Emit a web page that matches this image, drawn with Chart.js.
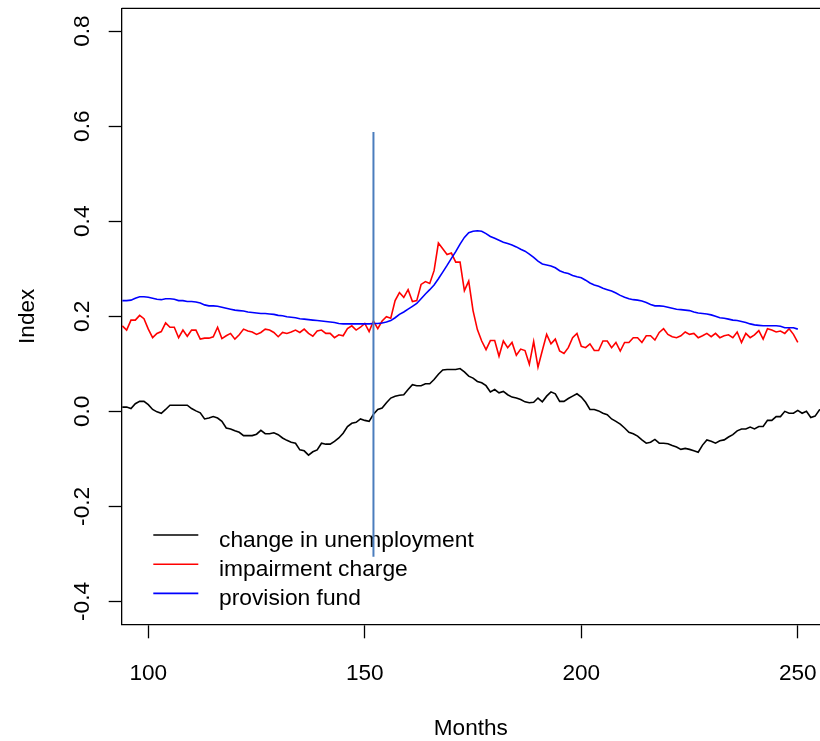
<!DOCTYPE html>
<html>
<head>
<meta charset="utf-8">
<script src="https://cdn.jsdelivr.net/npm/chart.js"></script>
<style>
  html, body { margin: 0; padding: 0; background: #fff; }
  #chart { display: block; }
</style>
</head>
<body>
<canvas id="chart" width="820" height="741"></canvas>
<script>
// months run 94, 95, ... for every series
const firstMonth = 94;
const xTicks = [100, 150, 200, 250];
const yTicks = [-0.4, -0.2, 0, 0.2, 0.4, 0.6, 0.8];

const unemployment = [
    0.009, 0.009, 0.006, 0.016, 0.021, 0.021, 0.014, 0.004, -0.001, -0.004,
    0.004, 0.013, 0.013, 0.013, 0.013, 0.013, 0.006, 0.001, -0.003, -0.016,
    -0.014, -0.011, -0.014, -0.021, -0.035, -0.037, -0.041, -0.044, -0.051, -0.051,
    -0.051, -0.048, -0.040, -0.047, -0.047, -0.045, -0.049, -0.056, -0.061, -0.065,
    -0.067, -0.081, -0.083, -0.092, -0.085, -0.081, -0.067, -0.069, -0.069, -0.063,
    -0.056, -0.046, -0.032, -0.025, -0.023, -0.016, -0.019, -0.021, -0.006,
    0.004, 0.007, 0.018, 0.028, 0.032, 0.034, 0.035, 0.046, 0.056, 0.054,
    0.054, 0.058, 0.058, 0.067, 0.078, 0.087, 0.088, 0.088, 0.088, 0.090,
    0.083, 0.074, 0.070, 0.063, 0.060, 0.054, 0.041, 0.046, 0.039, 0.042,
    0.035, 0.030, 0.028, 0.025, 0.020, 0.018, 0.019, 0.028, 0.020, 0.032,
    0.041, 0.037, 0.021, 0.021, 0.027, 0.032, 0.037, 0.030, 0.019, 0.004,
    0.004, 0.001, -0.004, -0.007,
    -0.016, -0.021, -0.027, -0.035, -0.044, -0.047, -0.052, -0.060, -0.067, -0.065,
    -0.059, -0.067, -0.067, -0.068, -0.072, -0.075, -0.080, -0.078, -0.080, -0.083,
    -0.086, -0.071, -0.060, -0.063, -0.067, -0.062, -0.060, -0.054, -0.049, -0.041,
    -0.037, -0.037, -0.033, -0.037, -0.032, -0.032, -0.019, -0.019, -0.011, -0.011,
    0.000, -0.004, -0.004, 0.002, -0.004, 0.000, -0.013, -0.010, 0.003, 0.006
];

const impairment = [
    0.180, 0.171, 0.192, 0.192, 0.202, 0.195, 0.173, 0.155, 0.164, 0.168,
    0.186, 0.177, 0.177, 0.155, 0.171, 0.158, 0.171, 0.171, 0.152, 0.154,
    0.154, 0.157, 0.177, 0.153, 0.159, 0.164, 0.152, 0.161, 0.173,
    0.169, 0.167, 0.162, 0.166, 0.173, 0.171, 0.166, 0.157, 0.166, 0.164,
    0.167, 0.171, 0.166, 0.173, 0.164, 0.158, 0.169, 0.171, 0.164, 0.164,
    0.155, 0.161, 0.159, 0.174, 0.180, 0.171, 0.177, 0.185, 0.168, 0.190,
    0.174, 0.190, 0.199, 0.196, 0.233, 0.250, 0.240, 0.256, 0.231, 0.233,
    0.267, 0.273, 0.269, 0.296, 0.354, 0.342, 0.330, 0.333, 0.314, 0.314,
    0.254, 0.274, 0.212, 0.172, 0.148, 0.130, 0.149, 0.149, 0.116,
    0.148, 0.134, 0.145, 0.118, 0.131, 0.128, 0.099, 0.147, 0.093, 0.128,
    0.162, 0.142, 0.152, 0.127, 0.122, 0.134, 0.155, 0.164,
    0.137, 0.134, 0.142, 0.128, 0.128, 0.148, 0.148, 0.134, 0.145, 0.127,
    0.145, 0.145, 0.155, 0.155, 0.145, 0.159, 0.159, 0.150, 0.166, 0.174,
    0.162, 0.157, 0.155, 0.159, 0.167, 0.162, 0.164, 0.155, 0.159, 0.164,
    0.157, 0.164, 0.155, 0.159, 0.161, 0.155, 0.167, 0.145, 0.164, 0.155,
    0.161, 0.170, 0.152, 0.174, 0.171, 0.167, 0.169, 0.164, 0.174, 0.162,
    0.145
];

const provision = [
    0.233, 0.233, 0.234, 0.238, 0.241, 0.241, 0.240, 0.238, 0.236, 0.235,
    0.237, 0.237, 0.236, 0.233, 0.233, 0.231, 0.231, 0.230, 0.228, 0.224,
    0.222, 0.222, 0.221, 0.219, 0.217, 0.215, 0.213, 0.212, 0.211, 0.209,
    0.208, 0.207, 0.206, 0.206, 0.205, 0.204, 0.202, 0.201, 0.199, 0.198,
    0.197, 0.195, 0.194, 0.193, 0.192, 0.191, 0.190, 0.189, 0.188, 0.187,
    0.185, 0.184, 0.184, 0.184, 0.184, 0.184, 0.184, 0.184, 0.185, 0.185,
    0.186, 0.188, 0.191, 0.197, 0.204, 0.209, 0.215, 0.221, 0.227, 0.237,
    0.247, 0.256, 0.266, 0.279, 0.293, 0.307, 0.322, 0.336, 0.352, 0.366,
    0.376, 0.379, 0.380, 0.379, 0.374, 0.368, 0.364, 0.360, 0.356, 0.353,
    0.350, 0.346, 0.341, 0.337, 0.331, 0.324, 0.316, 0.310, 0.308, 0.306,
    0.302, 0.296, 0.292, 0.290, 0.286, 0.283, 0.281, 0.276, 0.270, 0.266,
    0.263, 0.259, 0.256, 0.253, 0.249, 0.244, 0.240, 0.237, 0.235, 0.234,
    0.232, 0.229, 0.225, 0.222, 0.222, 0.221, 0.219, 0.217, 0.215, 0.214,
    0.213, 0.212, 0.209, 0.207, 0.206, 0.205, 0.203, 0.200, 0.197, 0.196,
    0.194, 0.192, 0.191, 0.189, 0.187, 0.184, 0.182, 0.181, 0.180, 0.180,
    0.180, 0.180, 0.179, 0.176, 0.176, 0.176, 0.173
];

// vertical marker
const markerMonth = 152;
const markerTop = 0.588;
const markerBottom = -0.306;

const fontFamily = "'Liberation Sans', Arial, Helvetica, sans-serif";
const toPoints = (values) => values.map((v, i) => ({ x: firstMonth + i, y: v }));

const legendPlugin = {
    id: 'boxlessLegend',
    beforeDatasetsDraw(chart) {
        const { ctx, chartArea } = chart;
        const rows = chart.data.datasets.filter(d => d.label);
        ctx.save();
        ctx.font = '22.8px ' + fontFamily;
        ctx.textAlign = 'left';
        ctx.textBaseline = 'alphabetic';
        rows.forEach((d, i) => {
            const y = chartArea.bottom - 89.3 + i * 29.2;
            ctx.strokeStyle = d.borderColor;
            ctx.lineWidth = d.borderWidth;
            ctx.beginPath();
            ctx.moveTo(chartArea.left + 31.6, y);
            ctx.lineTo(chartArea.left + 76.6, y);
            ctx.stroke();
            ctx.fillStyle = '#000';
            ctx.fillText(d.label, chartArea.left + 97.3, y + 11.7);
        });
        ctx.restore();
    }
};

const topFrame = {
    id: 'topFrame',
    afterDraw(chart) {
        const { ctx, chartArea } = chart;
        ctx.save();
        ctx.strokeStyle = '#000';
        ctx.lineWidth = 1.3;
        ctx.beginPath();
        ctx.moveTo(chartArea.left, chartArea.top);
        ctx.lineTo(chartArea.right, chartArea.top);
        ctx.stroke();
        ctx.restore();
    }
};

const tickFont = { family: fontFamily, size: 22.6 };
const titleFont = { family: fontFamily, size: 22.6, lineHeight: 1 };

new Chart(document.getElementById('chart'), {
    type: 'line',
    data: {
        datasets: [
            { label: 'change in unemployment', data: toPoints(unemployment), borderColor: '#000000', borderWidth: 1.6, pointRadius: 0, order: 4 },
            { label: 'impairment charge', data: toPoints(impairment), borderColor: '#ff0000', borderWidth: 1.6, pointRadius: 0, order: 3 },
            { label: 'provision fund', data: toPoints(provision), borderColor: '#0000ff', borderWidth: 1.6, pointRadius: 0, order: 2 },
            { label: '', data: [{ x: markerMonth, y: markerTop }, { x: markerMonth, y: markerBottom }], borderColor: '#4b7dbd', borderWidth: 2, pointRadius: 0, order: 1 }
        ]
    },
    options: {
        responsive: false,
        animation: false,
        devicePixelRatio: 1,
        layout: { padding: { top: 8.3, right: 0, bottom: 0, left: 0 } },
        plugins: { legend: { display: false }, tooltip: { enabled: false } },
        scales: {
            x: {
                type: 'linear',
                min: 93.857,
                max: 255.13,
                afterBuildTicks: (s) => { s.ticks = xTicks.map(v => ({ value: v })); },
                afterFit: (s) => { s.height = 116.7; s.paddingLeft = 0; s.paddingRight = 0; },
                grid: { drawOnChartArea: false, drawTicks: true, tickLength: 14, tickWidth: 1.3, tickColor: '#000' },
                border: { display: true, color: '#000', width: 1.3 },
                ticks: { autoSkip: false, maxRotation: 0, padding: 21.5, color: '#000', font: tickFont, callback: (v) => String(v) },
                title: { display: true, text: 'Months', color: '#000', font: titleFont, padding: { top: 0, bottom: 1 } }
            },
            y: {
                type: 'linear',
                min: -0.448,
                max: 0.848,
                afterBuildTicks: (s) => { s.ticks = yTicks.map(v => ({ value: v })); },
                afterFit: (s) => { s.width = 121.7; s.paddingTop = 0; s.paddingBottom = 0; },
                grid: { drawOnChartArea: false, drawTicks: true, tickLength: 13, tickWidth: 1.3, tickColor: '#000' },
                border: { display: true, color: '#000', width: 1.3 },
                ticks: { autoSkip: false, minRotation: 90, maxRotation: 90, crossAlign: 'center', padding: 6, color: '#000', font: tickFont, callback: (v) => v.toFixed(1) },
                title: { display: true, text: 'Index', color: '#000', font: titleFont, padding: { top: 16, bottom: 0 } }
            }
        }
    },
    plugins: [legendPlugin, topFrame]
});
</script>
</body>
</html>
